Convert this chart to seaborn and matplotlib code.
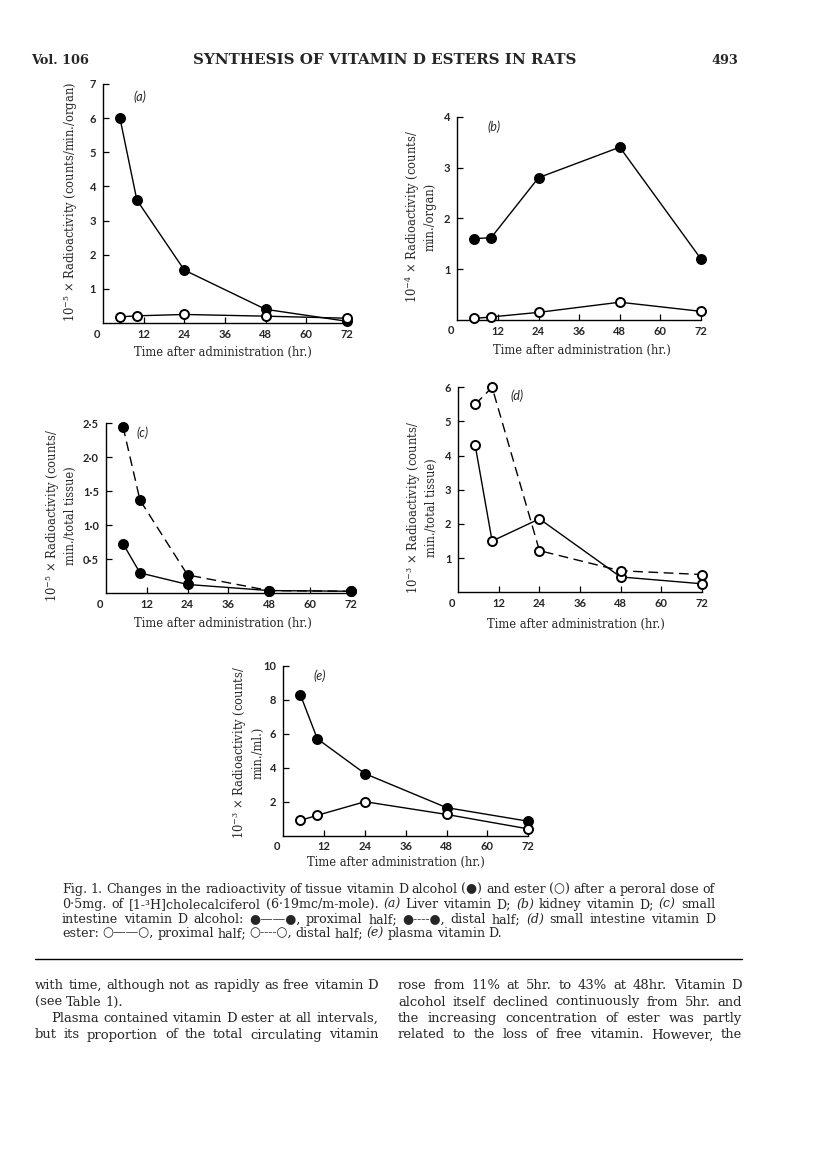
import matplotlib
matplotlib.use("Agg")
import matplotlib.pyplot as plt
import seaborn as sns
import pandas as pd

# ---------------- data ----------------
hours = [5, 10, 24, 48, 72]
a_alcohol = [6.0, 3.6, 1.55, 0.4, 0.05]
a_ester = [0.18, 0.21, 0.25, 0.2, 0.14]
b_alcohol = [1.6, 1.62, 2.8, 3.4, 1.2]
b_ester = [0.03, 0.06, 0.15, 0.35, 0.17]
c_proximal = [0.73, 0.3, 0.13, 0.04, 0.03]
c_distal = [2.45, 1.37, 0.27, 0.04, 0.03]
d_proximal = [4.3, 1.5, 2.15, 0.45, 0.25]
d_distal = [5.5, 6.0, 1.22, 0.63, 0.52]
e_alcohol = [8.3, 5.7, 3.65, 1.65, 0.85]
e_ester = [0.9, 1.2, 2.0, 1.25, 0.4]

x_ticks = [12, 24, 36, 48, 60, 72]
a_yticks = [1, 2, 3, 4, 5, 6, 7]
b_yticks = [1, 2, 3, 4]
c_yticks = [0.5, 1.0, 1.5, 2.0, 2.5]
c_yticklabels = ["0·5", "1·0", "1·5", "2·0", "2·5"]
d_yticks = [1, 2, 3, 4, 5, 6]
e_yticks = [2, 4, 6, 8, 10]

xlabel = "Time after administration (hr.)"
a_ylabel = "10$^{-5}$ × Radioactivity (counts/min./organ)"
b_ylabel = "10$^{-4}$ × Radioactivity (counts/\nmin./organ)"
c_ylabel = "10$^{-5}$ × Radioactivity (counts/\nmin./total tissue)"
d_ylabel = "10$^{-3}$ × Radioactivity (counts/\nmin./total tissue)"
e_ylabel = "10$^{-3}$ × Radioactivity (counts/\nmin./ml.)"

sns.set_style("ticks")
SERIF = ["DejaVu Serif", "DejaVu Sans"]
plt.rcParams["font.family"] = SERIF
plt.rcParams["mathtext.fontset"] = "dejavuserif"

W, H = 816, 1155
fig = plt.figure(figsize=(W / 100, H / 100), dpi=100)
fig.patch.set_facecolor("white")

TICKFAM = ["Lato", "DejaVu Sans"]
TICKSIZE = 8
LABELSIZE = 8.3


def make_axes(left, right, y0, ytop):
    return fig.add_axes([left / W, 1 - y0 / H, (right - left) / W, (y0 - ytop) / H])


def draw_series(ax, y, filled, dashed):
    df = pd.DataFrame({"hr": hours, "val": y})
    sns.lineplot(data=df, x="hr", y="val", ax=ax, color="black",
                 linewidth=1.0, linestyle=(0, (7, 4)) if dashed else "-",
                 marker="o", markersize=6.5,
                 markerfacecolor="black" if filled else "white",
                 markeredgecolor="black", markeredgewidth=1.4,
                 clip_on=False, zorder=3)


def style_axes(ax, ymax, yticks, yticklabels, letter, letter_pos, ylabel,
               ylabel_pos, xlabel_pos):
    ax.set_xlim(0, 72)
    ax.set_ylim(0, ymax)
    sns.despine(ax=ax)
    for s in ["left", "bottom"]:
        ax.spines[s].set_linewidth(1.0)
        ax.spines[s].set_color("black")
    ax.set_xticks(x_ticks)
    ax.set_xticklabels([str(t) for t in x_ticks], family=TICKFAM,
                       weight="bold", size=TICKSIZE)
    ax.set_yticks(yticks)
    ax.set_yticklabels(yticklabels, family=TICKFAM, weight="bold",
                       size=TICKSIZE)
    ax.tick_params(direction="in", length=4, width=0.9, color="black")
    ax.tick_params(axis="x", pad=4)
    ax.tick_params(axis="y", pad=5)
    ax.annotate("0", xy=(0, 0), xycoords="axes fraction", xytext=(-6, -11),
                textcoords="offset pixels", ha="center", va="center",
                fontfamily=TICKFAM, fontweight="bold", fontsize=TICKSIZE)
    ax.set_xlabel(xlabel, fontsize=LABELSIZE)
    ax.xaxis.label.set_verticalalignment("center")
    ax.xaxis.set_label_coords(*xlabel_pos)
    ax.set_ylabel(ylabel, fontsize=LABELSIZE, linespacing=1.2)
    ax.yaxis.label.set_verticalalignment("center")
    ax.yaxis.label.set_horizontalalignment("center")
    ax.yaxis.set_label_coords(*ylabel_pos)
    ax.text(letter_pos[0], letter_pos[1], letter, transform=ax.transAxes,
            fontsize=9, style="italic", family=TICKFAM,
            ha="center", va="center")
    ax.set_facecolor("white")
    ax.grid(False)


# (a)
ax = make_axes(103, 347, 323, 84)
draw_series(ax, a_alcohol, True, False)
draw_series(ax, a_ester, False, False)
style_axes(ax, 7, a_yticks, [str(t) for t in a_yticks], "(a)", (0.152, 0.946),
           a_ylabel, (-0.135, 0.506), (0.49, -0.125))

# (b)
ax = make_axes(457.3, 701, 320, 116.7)
draw_series(ax, b_alcohol, True, False)
draw_series(ax, b_ester, False, False)
style_axes(ax, 4, b_yticks, [str(t) for t in b_yticks], "(b)", (0.15, 0.949),
           b_ylabel, (-0.153, 0.507), (0.51, -0.15))

# (c)
ax = make_axes(106, 350.7, 593.3, 423.3)
draw_series(ax, c_proximal, True, False)
draw_series(ax, c_distal, True, True)
style_axes(ax, 2.5, c_yticks, c_yticklabels, "(c)", (0.151, 0.943),
           c_ylabel, (-0.186, 0.455), (0.478, -0.18))

# (d)
ax = make_axes(458.3, 701.7, 592.3, 387.3)
draw_series(ax, d_proximal, False, False)
draw_series(ax, d_distal, False, True)
style_axes(ax, 6, d_yticks, [str(t) for t in d_yticks], "(d)", (0.241, 0.958),
           d_ylabel, (-0.153, 0.413), (0.485, -0.155))

# (e)
ax = make_axes(283.3, 528.3, 835.7, 665.7)
draw_series(ax, e_alcohol, True, False)
draw_series(ax, e_ester, False, False)
style_axes(ax, 10, e_yticks, [str(t) for t in e_yticks], "(e)", (0.15, 0.94),
           e_ylabel, (-0.147, 0.49), (0.458, -0.16))

# ---------------- page text ----------------
fig.text(31 / W, 1 - 64 / H, "Vol. 106", family=SERIF, weight="bold",
         fontsize=9.3, ha="left", va="baseline")
fig.text(385 / W, 1 - 64 / H, "SYNTHESIS OF VITAMIN D ESTERS IN RATS",
         family=SERIF, weight="bold", fontsize=10.9, ha="center", va="baseline")
fig.text(738 / W, 1 - 64 / H, "493", family=SERIF, weight="bold",
         fontsize=9.3, ha="right", va="baseline")

renderer = fig.canvas.get_renderer()


def measure(words, size):
    widths = []
    for w in words:
        italic = w.startswith("_")
        txt = w[1:] if italic else w
        t = fig.text(0, 0, txt, family=SERIF, fontsize=size,
                     style="italic" if italic else "normal")
        widths.append(t.get_window_extent(renderer).width)
        t.remove()
    return widths


def fit_size(lines, width, s0=8.0, space_em=0.28):
    best = 100.0
    for words, justify, indent in lines:
        if not justify:
            continue
        wd = measure(words, s0)
        nat = sum(wd) + (len(words) - 1) * space_em * s0 * 100 / 72
        best = min(best, s0 * (width - indent) / nat)
    return best


def justified(words, x0, x1, baseline, size, justify=True):
    objs = []
    widths = measure(words, size)
    for w in words:
        italic = w.startswith("_")
        txt = w[1:] if italic else w
        t = fig.text(0, 1 - baseline / H, txt, family=SERIF, fontsize=size,
                     style="italic" if italic else "normal", ha="left",
                     va="baseline")
        objs.append(t)
    space = size * 100 / 72 * 0.28
    if justify and len(words) > 1:
        gap = (x1 - x0 - sum(widths)) / (len(words) - 1)
    else:
        gap = space
    x = x0
    for t, wd in zip(objs, widths):
        t.set_x(x / W)
        x += wd + gap


cap_lines = [
    ("Fig. 1.  Changes in the radioactivity of tissue vitamin D alcohol (●) and ester (○) after a peroral dose of", True),
    ("0·5mg. of [1-³H]cholecalciferol (6·19mc/m-mole). _(a) Liver vitamin D; _(b) kidney vitamin D; _(c) small", True),
    ("intestine vitamin D alcohol: ●——●, proximal half; ●----●, distal half; _(d) small intestine vitamin D", True),
    ("ester: ○——○, proximal half; ○----○, distal half; _(e) plasma vitamin D.", False),
]
cap_base = [893, 908, 923, 937]
cap_size = fit_size([(l.split(), j, 0) for l, j in cap_lines], 715 - 62)
for (line, j), b in zip(cap_lines, cap_base):
    justified(line.split(), 62, 715, b, cap_size, j)

fig.add_artist(plt.Line2D([35 / W, 742 / W], [1 - 959 / H, 1 - 959 / H],
                          color="black", linewidth=1.0))

left_col = [
    ("with time, although not as rapidly as free vitamin D", True, 35),
    ("(see Table 1).", False, 35),
    ("Plasma contained vitamin D ester at all intervals,", True, 51),
    ("but its proportion of the total circulating vitamin", True, 35),
]
right_col = [
    ("rose from 11% at 5hr. to 43% at 48hr.  Vitamin D", True),
    ("alcohol itself declined continuously from 5hr. and", True),
    ("the increasing concentration of ester was partly", True),
    ("related to the loss of free vitamin.  However, the", True),
]
body_lines = ([(l.split(), j, x0 - 35) for l, j, x0 in left_col] +
              [(l.split(), j, 0) for l, j in right_col])
body_size = fit_size(body_lines, 343)
body_base = [989, 1005.5, 1022, 1038.5]
for (line, j, x0), b in zip(left_col, body_base):
    justified(line.split(), x0, 378, b, body_size, j)
for (line, j), b in zip(right_col, body_base):
    justified(line.split(), 398, 742, b, body_size, j)

fig.savefig("out.png", dpi=100, facecolor="white")
